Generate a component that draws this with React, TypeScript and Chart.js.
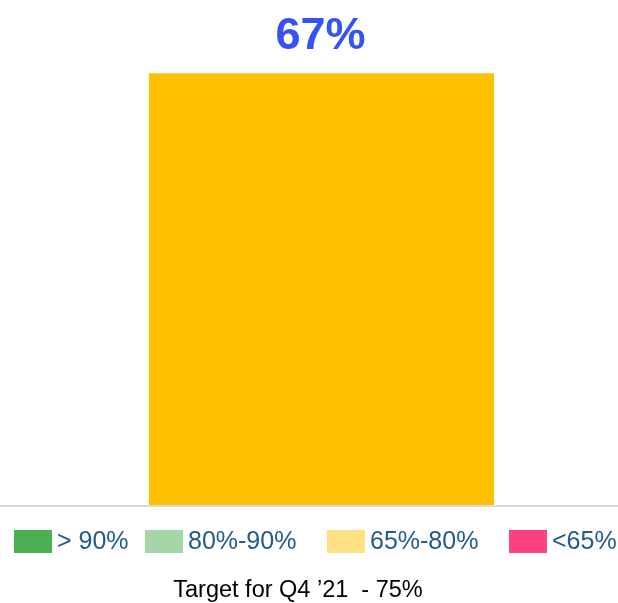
import React, { useEffect, useRef } from "react";
import { Chart, registerables } from "chart.js";

Chart.register(...registerables);

const CATEGORIES = ["Q4 '21"];
const VALUES = [67];
const LEGEND_LABELS = ["> 90%", "80%-90%", "65%-80%", "<65%"];
const LEGEND_COLORS = ["#4CAF50", "#A5D6A7", "#FFE082", "#FF4081"];
const TARGET_TEXT = "Target for Q4 \u201921  - 75%";

const FONT = 'Arial, "Liberation Sans", sans-serif';

const decorPlugin = {
  id: "decor",
  afterDatasetsDraw(chart: any) {
    const { ctx, chartArea, width } = chart;
    ctx.save();
    // baseline axis line across full width
    ctx.strokeStyle = "#D9D9D9";
    ctx.lineWidth = 2;
    ctx.beginPath();
    ctx.moveTo(0, chartArea.bottom + 1);
    ctx.lineTo(width, chartArea.bottom + 1);
    ctx.stroke();

    // value labels
    const meta = chart.getDatasetMeta(0);
    meta.data.forEach((bar: any, i: number) => {
      ctx.fillStyle = "#3452F6";
      ctx.font = `bold 45px ${FONT}`;
      ctx.textAlign = "center";
      ctx.textBaseline = "alphabetic";
      ctx.fillText(`${VALUES[i]}%`, bar.x - 1, bar.y - 24);
    });

    // legend
    const starts = [14, 145, 327, 509];
    ctx.font = `25px ${FONT}`;
    ctx.textAlign = "left";
    ctx.textBaseline = "middle";
    LEGEND_LABELS.forEach((label, i) => {
      const x = starts[i];
      ctx.fillStyle = LEGEND_COLORS[i];
      ctx.fillRect(x, 530, 38, 23);
      ctx.fillStyle = "#225B8D";
      ctx.fillText(label, x + 43, 542);
    });

    // target text
    ctx.fillStyle = "#000000";
    ctx.font = `23.5px ${FONT}`;
    ctx.textAlign = "center";
    ctx.textBaseline = "alphabetic";
    ctx.fillText(TARGET_TEXT, 298, 597);
    ctx.restore();
  },
};

export default function App() {
  const canvasRef = useRef<HTMLCanvasElement | null>(null);

  useEffect(() => {
    if (!canvasRef.current) return;
    const chart = new Chart(canvasRef.current, {
      type: "bar",
      data: {
        labels: CATEGORIES,
        datasets: [
          {
            data: VALUES,
            backgroundColor: "#FFC000",
            borderWidth: 0,
            barPercentage: 0.582,
            categoryPercentage: 1,
          },
        ],
      },
      options: {
        animation: false,
        responsive: true,
        maintainAspectRatio: false,
        layout: { padding: { top: 54, left: 25, right: 0, bottom: 98 } },
        plugins: {
          legend: { display: false },
          tooltip: { enabled: false },
          title: { display: false },
        },
        scales: {
          x: { display: false },
          y: { display: false, min: 0, max: 70 },
        },
      },
      plugins: [decorPlugin],
    });
    return () => chart.destroy();
  }, []);

  return (
    <div style={{ position: "fixed", left: 0, top: 0, width: 618, height: 603, background: "#fff" }}>
      <canvas ref={canvasRef} />
    </div>
  );
}
